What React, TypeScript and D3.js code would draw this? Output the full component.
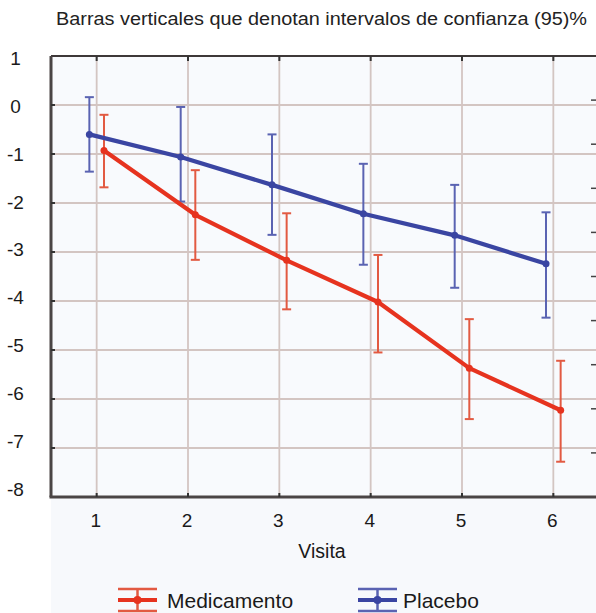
import React from "react";
import * as d3 from "d3";

// Visits and per-group means with 95% confidence limits
const visits = [1, 2, 3, 4, 5, 6];
const medMean = [-0.93, -2.24, -3.17, -4.02, -5.37, -6.23];
const medLow = [-1.68, -3.16, -4.17, -5.05, -6.41, -7.28];
const medHigh = [-0.2, -1.33, -2.21, -3.06, -4.37, -5.22];
const plaMean = [-0.6, -1.06, -1.63, -2.22, -2.66, -3.24];
const plaLow = [-1.36, -1.97, -2.65, -3.26, -3.73, -4.34];
const plaHigh = [0.16, -0.04, -0.6, -1.2, -1.63, -2.19];
const yTicks = [1, 0, -1, -2, -3, -4, -5, -6, -7, -8];
const xTicks = [1, 2, 3, 4, 5, 6];
const titleText = "Barras verticales que denotan intervalos de confianza (95)%";
const xLabel = "Visita";
const seriesNames = ["Medicamento", "Placebo"];

const W = 596;
const H = 613;
const FONT = "'Liberation Sans', Arial, sans-serif";

export default function App() {
  const x = d3.scaleLinear().domain([0.5, 6.5]).range([51, 599]);
  const y = d3.scaleLinear().domain([-8, 1]).range([497, 56]);
  const yLab = d3.scaleLinear().domain([-8, 1]).range([489, 58]);
  const rightTicks = d3.scaleLinear().domain([0, 10]).range([56, 497]);

  const series = [
    {
      name: "Placebo",
      mean: plaMean, low: plaLow, high: plaHigh,
      offset: -0.08, line: "#3a45a2", bar: "#5a63b2",
    },
    {
      name: "Medicamento",
      mean: medMean, low: medLow, high: medHigh,
      offset: 0.08, line: "#e6331f", bar: "#e25a42",
    },
  ];

  const left = x(0.5);
  const right = W;
  const top = y(1);
  const bottom = y(-8);
  const cap = 4.5;

  return (
    <svg
      width={W}
      height={H}
      style={{ position: "absolute", left: 0, top: 0, background: "#ffffff" }}
    >
      {/* title */}
      <text
        x={56}
        y={25}
        fontFamily={FONT}
        fontSize={17.5}
        fill="#222"
        textLength={531}
        lengthAdjust="spacingAndGlyphs"
      >
        {titleText}
      </text>

      {/* faint panel below the axis */}
      <rect x={left} y={bottom} width={right - left} height={H - bottom} fill="#f7f9fc" />

      {/* plot background */}
      <rect x={left} y={top} width={right - left} height={bottom - top} fill="#f8fafd" />

      {/* grid */}
      {yTicks
        .filter((v) => v > -8 && v < 1)
        .map((v) => (
          <line key={"gy" + v} x1={left} x2={right} y1={y(v)} y2={y(v)} stroke="#d3c5c2" strokeWidth={1.8} />
        ))}
      {xTicks.map((v) => (
        <line key={"gx" + v} x1={x(v)} x2={x(v)} y1={top} y2={bottom} stroke="#d3c5c2" strokeWidth={1.8} />
      ))}

      {/* right-side tick marks */}
      {d3.range(1, 10).map((k) => (
        <line key={"rt" + k} x1={591} x2={596} y1={rightTicks(k)} y2={rightTicks(k)} stroke="#444" strokeWidth={1.5} />
      ))}

      {/* frame */}
      <line x1={left} x2={right} y1={top} y2={top} stroke="#3d3838" strokeWidth={2} />
      <line x1={left} x2={left} y1={top} y2={bottom} stroke="#4a4545" strokeWidth={3} />
      <line x1={left - 1.5} x2={right} y1={bottom} y2={bottom} stroke="#4a4545" strokeWidth={3} />

      {/* axis ticks */}
      {xTicks.map((v) => (
        <g key={"xt" + v}>
          <line x1={x(v)} x2={x(v)} y1={top} y2={top + 5} stroke="#333" strokeWidth={2} />
          <line x1={x(v)} x2={x(v)} y1={bottom} y2={bottom - 4} stroke="#333" strokeWidth={2} />
        </g>
      ))}
      {yTicks
        .filter((v) => v > -8 && v < 1)
        .map((v) => (
          <line key={"yt" + v} x1={left} x2={left + 4} y1={y(v)} y2={y(v)} stroke="#333" strokeWidth={2} />
        ))}

      {/* error bars */}
      {series.map((s) =>
        visits.map((v, i) => {
          const cx = x(v + s.offset);
          return (
            <g key={s.name + "eb" + v} stroke={s.bar} strokeWidth={2}>
              <line x1={cx} x2={cx} y1={y(s.high[i])} y2={y(s.low[i])} />
              <line x1={cx - cap} x2={cx + cap} y1={y(s.high[i])} y2={y(s.high[i])} />
              <line x1={cx - cap} x2={cx + cap} y1={y(s.low[i])} y2={y(s.low[i])} />
            </g>
          );
        })
      )}

      {/* mean lines and markers */}
      {series.map((s) => {
        const path = d3
          .line<number>()
          .x((_, i) => x(visits[i] + s.offset))
          .y((d) => y(d))(s.mean);
        return (
          <g key={s.name + "ln"}>
            <path d={path || ""} fill="none" stroke={s.line} strokeWidth={4.2} strokeLinejoin="round" />
            {s.mean.map((m, i) => (
              <circle key={i} cx={x(visits[i] + s.offset)} cy={y(m)} r={3.5} fill={s.line} />
            ))}
          </g>
        );
      })}

      {/* y tick labels */}
      {yTicks.map((v) => (
        <text
          key={"yl" + v}
          x={15.5}
          y={yLab(v)}
          dy="0.36em"
          textAnchor="middle"
          fontFamily={FONT}
          fontSize={19}
          fill="#1a1a1a"
        >
          {v}
        </text>
      ))}

      {/* x tick labels */}
      {xTicks.map((v) => (
        <text
          key={"xl" + v}
          x={x(v) - 1}
          y={527}
          textAnchor="middle"
          fontFamily={FONT}
          fontSize={19}
          fill="#1a1a1a"
        >
          {v}
        </text>
      ))}

      {/* x axis title */}
      <text x={322} y={558} textAnchor="middle" fontFamily={FONT} fontSize={19.5} fill="#1a1a1a">
        {xLabel}
      </text>

      {/* legend */}
      {[
        { name: seriesNames[0], s: series[1], ix: 118, tx: 167 },
        { name: seriesNames[1], s: series[0], ix: 358, tx: 403 },
      ].map((l) => {
        const cx = l.ix + 19.5;
        return (
          <g key={"lg" + l.name}>
            <line x1={l.ix} x2={l.ix + 39} y1={589} y2={589} stroke={l.s.bar} strokeWidth={2.5} />
            <line x1={l.ix} x2={l.ix + 39} y1={611} y2={611} stroke={l.s.bar} strokeWidth={2.5} />
            <line x1={cx} x2={cx} y1={589} y2={611} stroke={l.s.bar} strokeWidth={2.5} />
            <line x1={l.ix} x2={l.ix + 39} y1={600} y2={600} stroke={l.s.line} strokeWidth={4} />
            <circle cx={cx} cy={600} r={4} fill={l.s.line} />
            <text x={l.tx} y={607.5} fontFamily={FONT} fontSize={21} fill="#1a1a1a">
              {l.name}
            </text>
          </g>
        );
      })}
    </svg>
  );
}
